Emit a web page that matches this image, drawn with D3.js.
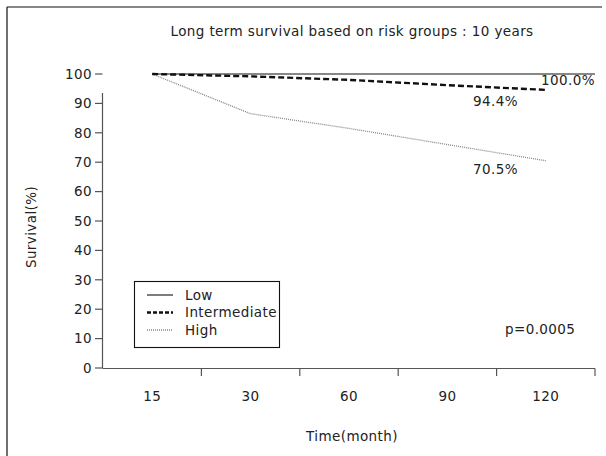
<!DOCTYPE html>
<html>
<head>
<meta charset="utf-8">
<script src="https://cdn.jsdelivr.net/npm/d3@7"></script>
<style>
  html, body { margin: 0; padding: 0; background: #fff; }
  svg { display: block; }
  text { font-family: "DejaVu Sans", "Liberation Sans", sans-serif; fill: #222; letter-spacing: 0.4px; }
</style>
</head>
<body>
<svg id="chart" width="606" height="456"></svg>
<script>
const months = ["15", "30", "60", "90", "120"];
const lowValues = [100, 100, 100, 100, 100];
const intermediateValues = [100, 99.2, 98.0, 96.2, 94.6];
const highValues = [100, 86.5, 81.5, 76.0, 70.5];
const yTicks = [0, 10, 20, 30, 40, 50, 60, 70, 80, 90, 100];
const endLabels = ["100.0%", "94.4%", "70.5%"];
const title = "Long term survival based on risk groups : 10 years";

const svg = d3.select("#chart");
const FS = "13.5px";

// frame (top and left edges)
svg.append("line").attr("x1", 7).attr("x2", 602).attr("y1", 7).attr("y2", 7)
  .attr("stroke", "#111").attr("stroke-width", 1.2);
svg.append("line").attr("x1", 7).attr("x2", 7).attr("y1", 7).attr("y2", 456)
  .attr("stroke", "#111").attr("stroke-width", 1.2);

const x = d3.scaleBand().domain(months).range([103, 595]);
const y = d3.scaleLinear().domain([0, 100]).range([368, 74]);
const cx = m => x(m) + x.bandwidth() / 2;

// title
svg.append("text").attr("x", 352).attr("y", 36).attr("text-anchor", "middle")
  .style("font-size", FS).text(title);

// y axis
const yAxis = svg.append("g");
yAxis.append("line").attr("x1", 102.5).attr("x2", 102.5).attr("y1", 93).attr("y2", y(0))
  .attr("stroke", "#555").attr("stroke-width", 1.2);
yAxis.selectAll("line.tick").data(yTicks).join("line").attr("class", "tick")
  .attr("x1", 95).attr("x2", 102.5).attr("y1", d => y(d)).attr("y2", d => y(d))
  .attr("stroke", "#555").attr("stroke-width", 1.2);
yAxis.selectAll("text").data(yTicks).join("text")
  .attr("x", 92).attr("y", d => y(d)).attr("dy", "0.36em").attr("text-anchor", "end")
  .style("font-size", FS).text(d => d);

// x axis
const xAxis = svg.append("g");
xAxis.append("line").attr("x1", 102.5).attr("x2", x.range()[1]).attr("y1", 368.5).attr("y2", 368.5)
  .attr("stroke", "#555").attr("stroke-width", 1.2);
xAxis.selectAll("line.tick").data(months).join("line").attr("class", "tick")
  .attr("x1", d => x(d) + x.bandwidth()).attr("x2", d => x(d) + x.bandwidth())
  .attr("y1", 368.5).attr("y2", 376)
  .attr("stroke", "#555").attr("stroke-width", 1.2);
xAxis.selectAll("text").data(months).join("text")
  .attr("x", d => cx(d)).attr("y", 401).attr("text-anchor", "middle")
  .style("font-size", FS).text(d => d);

// axis titles
svg.append("text").attr("x", 352).attr("y", 441).attr("text-anchor", "middle")
  .style("font-size", FS).text("Time(month)");
svg.append("text").attr("transform", "translate(36,227) rotate(-90)").attr("text-anchor", "middle")
  .style("font-size", FS).text("Survival(%)");

// lines
const line = d3.line().x(d => d[0]).y(d => y(d[1]));
const lowPts = months.map((m, i) => [cx(m), lowValues[i]]);
lowPts.push([x.range()[1], lowValues[lowValues.length - 1]]);
const interPts = months.map((m, i) => [cx(m), intermediateValues[i]]);
const highPts = months.map((m, i) => [cx(m), highValues[i]]);

svg.append("path").attr("d", line(highPts)).attr("fill", "none")
  .attr("stroke", "#888").attr("stroke-width", 1.3).attr("stroke-dasharray", "1,1");
svg.append("path").attr("d", line(interPts)).attr("fill", "none")
  .attr("stroke", "#111").attr("stroke-width", 2.4).attr("stroke-dasharray", "6,3");
svg.append("path").attr("d", line(lowPts)).attr("fill", "none")
  .attr("stroke", "#111").attr("stroke-width", 1.1);

// end labels
svg.append("text").attr("x", 541).attr("y", 85).style("font-size", FS).text(endLabels[0]);
svg.append("text").attr("x", 473).attr("y", 106).style("font-size", FS).text(endLabels[1]);
svg.append("text").attr("x", 473).attr("y", 174).style("font-size", FS).text(endLabels[2]);

// p-value
svg.append("text").attr("x", 505).attr("y", 334).style("font-size", FS).text("p=0.0005");

// legend
const legend = svg.append("g");
legend.append("rect").attr("x", 134.5).attr("y", 281.5).attr("width", 145).attr("height", 66)
  .attr("fill", "#fff").attr("stroke", "#111").attr("stroke-width", 1.1);
const legendItems = [
  { name: "Low", stroke: "#111", width: 1.1, dash: null },
  { name: "Intermediate", stroke: "#111", width: 2.4, dash: "4,2" },
  { name: "High", stroke: "#888", width: 1.3, dash: "1,1" }
];
legendItems.forEach((it, i) => {
  const yy = 295 + i * 17.5;
  legend.append("line").attr("x1", 147).attr("x2", 173).attr("y1", yy).attr("y2", yy)
    .attr("stroke", it.stroke).attr("stroke-width", it.width)
    .attr("stroke-dasharray", it.dash);
  legend.append("text").attr("x", 185).attr("y", yy).attr("dy", "0.36em")
    .style("font-size", FS).text(it.name);
});
</script>
</body>
</html>
